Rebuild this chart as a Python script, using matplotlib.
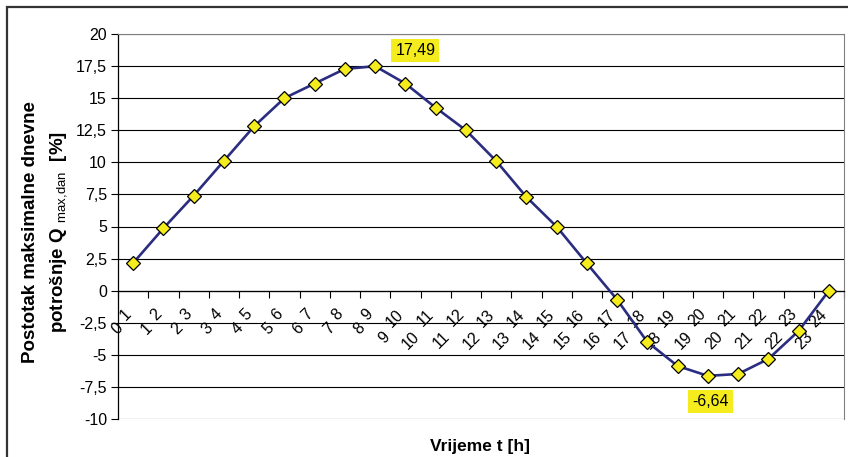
import matplotlib

matplotlib.use("Agg")
import matplotlib.pyplot as plt
from matplotlib.patches import Rectangle
from matplotlib.ticker import FixedLocator, FuncFormatter, NullFormatter

plt.rcParams["font.family"] = ["Liberation Sans", "DejaVu Sans"]
plt.rcParams["mathtext.fontset"] = "custom"
plt.rcParams["mathtext.rm"] = "Liberation Sans"

# hourly share of max daily consumption [%]
hour_start = [str(h) for h in range(0, 24)]
hour_end = [str(h) for h in range(1, 25)]
values = [2.15, 4.86, 7.40, 10.11, 12.81, 15.0, 16.14, 17.28, 17.49, 16.14,
          14.26, 12.50, 10.11, 7.30, 4.99, 2.12, -0.70, -4.0, -5.87, -6.64,
          -6.49, -5.32, -3.14, 0.0]
y_ticks = [-10, -7.5, -5, -2.5, 0, 2.5, 5, 7.5, 10, 12.5, 15, 17.5, 20]
max_idx = 8
min_idx = 19

line_color = "#2A2D80"
yellow = "#F4EC1C"

fig = plt.figure(figsize=(8.48, 4.57), dpi=100)
fig.patch.set_facecolor("white")
ax = fig.add_axes([118 / 848, 1 - 419 / 457, (844 - 118) / 848, (419 - 34) / 457])

# outer chart frame (right / bottom edges fall outside the picture)
fig.add_artist(Rectangle((7 / 848, -0.05), 1.0, 1.05 - 7 / 457, transform=fig.transFigure,
                         fill=False, edgecolor="#333333", linewidth=1.6, clip_on=False))

x = list(range(len(values)))
ax.plot(x, values, color=line_color, linewidth=1.9, marker="D", markersize=7.5,
        markerfacecolor=yellow, markeredgecolor="black", markeredgewidth=0.9, zorder=5,
        clip_on=False)

ax.set_xlim(-0.5, len(values) - 0.5)
ax.set_ylim(-10, 20)

# y axis
ax.yaxis.set_major_locator(FixedLocator(y_ticks))
ax.yaxis.set_major_formatter(FuncFormatter(lambda v, p: ("%g" % v).replace(".", ",")))
ax.tick_params(axis="y", direction="out", length=5, width=0.8, labelsize=11.5, pad=3)
ax.grid(axis="y", color="black", linewidth=0.8)
ax.set_axisbelow(True)

# x axis crosses at 0, ticks between categories
ax.spines["bottom"].set_position(("data", 0))
ax.spines["bottom"].set_linewidth(0.9)
ax.spines["left"].set_linewidth(0.9)
ax.spines["top"].set_color("#808080")
ax.spines["right"].set_color("#808080")
ax.xaxis.set_major_locator(FixedLocator([i - 0.5 for i in range(len(values) + 1)]))
ax.xaxis.set_major_formatter(NullFormatter())
ax.tick_params(axis="x", direction="out", length=5, width=0.8)

# category labels "start end", drawn in two staggered rows like the original
for i, (a, b) in enumerate(zip(hour_start, hour_end)):
    ax.annotate(b, xy=(i, 0), xytext=(-3.1, -15.2), textcoords="offset points",
                rotation=45, ha="right", va="center", rotation_mode="anchor",
                fontsize=11.5, zorder=2)
    ax.annotate(a, xy=(i, 0), xytext=(-5.8 - 3.6 * len(b), -19.1 - 6.1 * len(b)),
                textcoords="offset points", rotation=45, ha="right", va="center",
                rotation_mode="anchor", fontsize=11.5, zorder=2)

# data labels
box = dict(boxstyle="square,pad=0.25", facecolor=yellow, edgecolor="none")
ax.annotate(f"{values[max_idx]:.2f}".replace(".", ","), xy=(max_idx, values[max_idx]),
            xytext=(29, 11.5), textcoords="offset points", ha="center", va="center",
            fontsize=11.5, bbox=box, zorder=6)
ax.annotate(f"{values[min_idx]:.2f}".replace(".", ","), xy=(min_idx, values[min_idx]),
            xytext=(2, -18.5), textcoords="offset points", ha="center", va="center",
            fontsize=11.5, bbox=box, zorder=6)

fig.text(480 / 848, 1 - 447 / 457, "Vrijeme t [h]", ha="center", va="center",
         fontsize=12.5, fontweight="bold")
fig.text(46 / 848, 1 - 232 / 457,
         "Postotak maksimalne dnevne\npotrošnje Q $_{\\rm max{,}dan}$  [%]",
         ha="center", va="center", rotation=90, fontsize=13.5, fontweight="bold",
         linespacing=1.65)

fig.savefig("out.png", dpi=100, facecolor="white")
